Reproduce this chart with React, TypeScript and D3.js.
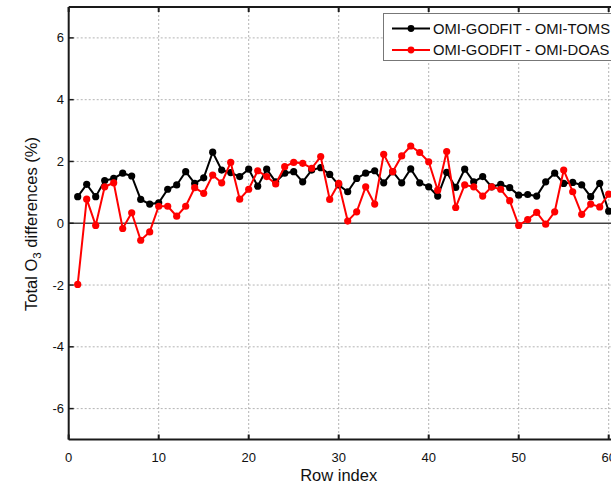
import React from "react";
import * as d3 from "d3";

const rowIndex = d3.range(1, 61);
const tomsDiff = [
  0.86, 1.26, 0.86, 1.38, 1.45, 1.62, 1.53, 0.77, 0.62, 0.66,
  1.10, 1.24, 1.67, 1.29, 1.47, 2.30, 1.72, 1.64, 1.51, 1.75,
  1.20, 1.75, 1.34, 1.62, 1.67, 1.34, 1.72, 1.80, 1.58, 1.24,
  1.02, 1.45, 1.62, 1.70, 1.31, 1.67, 1.31, 1.76, 1.31, 1.18,
  0.88, 1.65, 1.16, 1.75, 1.34, 1.51, 1.18, 1.26, 1.15, 0.91,
  0.93, 0.88, 1.34, 1.62, 1.29, 1.32, 1.24, 0.86, 1.29, 0.39,
];
const doasDiff = [
  -1.98, 0.78, -0.07, 1.18, 1.31, -0.17, 0.34, -0.55, -0.28, 0.55,
  0.55, 0.23, 0.55, 1.15, 0.97, 1.56, 1.31, 1.97, 0.78, 1.10,
  1.70, 1.51, 1.27, 1.83, 1.97, 1.94, 1.78, 2.16, 0.77, 1.29,
  0.07, 0.37, 1.18, 0.62, 2.23, 1.67, 2.18, 2.50, 2.29, 1.99,
  1.07, 2.32, 0.51, 1.24, 1.18, 0.88, 1.18, 1.10, 0.73, -0.07,
  0.12, 0.35, -0.03, 0.37, 1.72, 1.02, 0.29, 0.62, 0.53, 0.94,
];
const xTicks = [0, 10, 20, 30, 40, 50, 60];
const yTicks = [-6, -4, -2, 0, 2, 4, 6];
const gridY = [-6, -4, -2, 2, 4, 6];
const gridX = [10, 20, 30, 40, 50, 60];
const seriesNames = ["OMI-GODFIT - OMI-TOMS", "OMI-GODFIT - OMI-DOAS"];
const seriesColors = ["#000000", "#ff0000"];

export default function App() {
  const W = 611, H = 487;
  const left = 68.7, right = 617.7, top = 7, bottom = 439.5;
  const x = d3.scaleLinear().domain([0, 61]).range([left, right]);
  const y = d3.scaleLinear().domain([-7, 7]).range([bottom, top]);
  const line = d3.line<[number, number]>().x(d => x(d[0])).y(d => y(d[1]));
  const series = [tomsDiff, doasDiff];
  const font = "'Liberation Sans', Arial, Helvetica, sans-serif";

  return (
    <svg width={W} height={H} style={{ position: "absolute", left: 0, top: 0, background: "#fff" }} fontFamily={font}>
      <rect x={0} y={0} width={W} height={H} fill="#fff" />
      {gridY.map(v => (
        <line key={"gy" + v} x1={left} x2={right} y1={y(v)} y2={y(v)} stroke="#b4b4b4" strokeWidth={1} strokeDasharray="2,2" />
      ))}
      {gridX.map(v => (
        <line key={"gx" + v} x1={x(v)} x2={x(v)} y1={top} y2={bottom} stroke="#b4b4b4" strokeWidth={1} strokeDasharray="2,2" />
      ))}
      <line x1={left} x2={right} y1={y(0)} y2={y(0)} stroke="#444" strokeWidth={1.5} />
      {series.map((s, i) => (
        <g key={"s" + i}>
          <path d={line(s.map((v, j) => [rowIndex[j], v] as [number, number])) || ""} fill="none" stroke={seriesColors[i]} strokeWidth={2} />
          {s.map((v, j) => (
            <circle key={j} cx={x(rowIndex[j])} cy={y(v)} r={3.6} fill={seriesColors[i]} />
          ))}
        </g>
      ))}
      <line x1={left} x2={left} y1={top} y2={bottom} stroke="#1a1a1a" strokeWidth={2} />
      <line x1={left} x2={right} y1={bottom} y2={bottom} stroke="#1a1a1a" strokeWidth={2} />
      <line x1={left} x2={right} y1={top} y2={top} stroke="#1a1a1a" strokeWidth={2} />
      {xTicks.map(v => (
        <g key={"xt" + v}>
          <line x1={x(v)} x2={x(v)} y1={bottom} y2={bottom - 5} stroke="#1a1a1a" strokeWidth={2} />
          <line x1={x(v)} x2={x(v)} y1={top} y2={top + 5} stroke="#1a1a1a" strokeWidth={2} />
          <text x={x(v)} y={462} textAnchor="middle" fontSize={13} fill="#111">{v}</text>
        </g>
      ))}
      {yTicks.map(v => (
        <g key={"yt" + v}>
          <line x1={left} x2={left + 5} y1={y(v)} y2={y(v)} stroke="#1a1a1a" strokeWidth={1.5} />
          <text x={64} y={y(v)} dy="0.35em" textAnchor="end" fontSize={13} fill="#111">{v}</text>
        </g>
      ))}
      <text x={x(30)} y={481} textAnchor="middle" fontSize={16.5} fill="#111">Row index</text>
      <text transform={`translate(37,${224}) rotate(-90)`} textAnchor="middle" fontSize={16.5} fill="#111">
        Total O<tspan fontSize={11.5} dy={4}>3</tspan><tspan dy={-4}> differences (%)</tspan>
      </text>
      <rect x={383.5} y={13.5} width={260} height={47} fill="#fff" stroke="#777" strokeWidth={1} />
      {seriesNames.map((name, i) => {
        const cy = 28.5 + i * 21.5;
        return (
          <g key={"lg" + i}>
            <line x1={392} x2={430} y1={cy} y2={cy} stroke={seriesColors[i]} strokeWidth={2} />
            <circle cx={411} cy={cy} r={3.4} fill={seriesColors[i]} />
            <text x={433} y={cy} dy="0.36em" fontSize={14.8} fill="#111">{name}</text>
          </g>
        );
      })}
    </svg>
  );
}
